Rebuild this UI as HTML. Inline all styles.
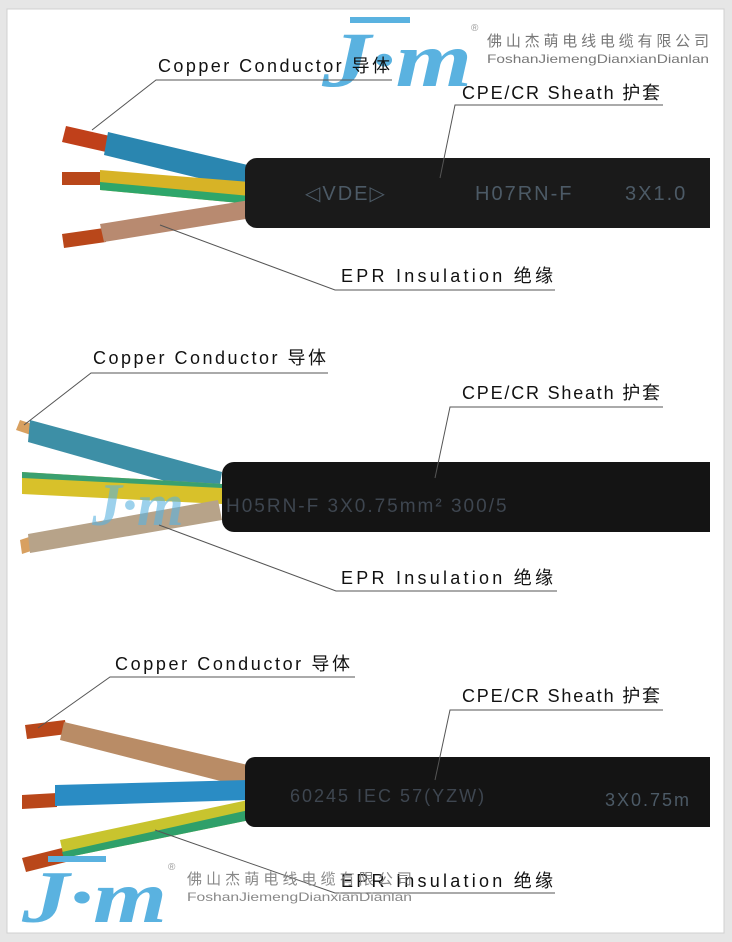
<!DOCTYPE html>
<html><head><meta charset="utf-8"><style>
html,body{margin:0;padding:0;background:#e9e9e9;}
svg{display:block}
text{font-family:"Liberation Sans Narrow","Liberation Sans","Noto Sans CJK SC",sans-serif;}
</style></head><body>
<svg width="732" height="942" viewBox="0 0 732 942" xmlns="http://www.w3.org/2000/svg">
<rect x="0" y="0" width="732" height="942" fill="#e6e6e6"/>
<rect x="7" y="9" width="717" height="924" fill="#fff" stroke="#d0d0d0"/>

<!-- Panel 1 -->
<g>
<path d="M66 126 L110 136 L106 152 L62 142 Z" fill="#c0401a"/>
<path d="M108 132 L252 166 L248 190 L104 155 Z" fill="#2a86b0"/>
<path d="M62 172 h42 v13 h-42z" fill="#b9471a"/>
<path d="M100 170 L250 182 L250 204 L100 190 Z" fill="#d7b326"/>
<path d="M100 182 L250 196 L250 204 L100 190 Z" fill="#2ea66a"/>
<path d="M62 234 l42 -6 l2 14 l-42 6z" fill="#b9471a"/>
<path d="M100 224 L250 200 L252 218 L104 242 Z" fill="#b88a70"/>
<rect x="245" y="158" width="465" height="70" rx="12" fill="#1a1a1a"/>
<rect x="265" y="158" width="445" height="70" fill="#1a1a1a"/>
<text x="305" y="200" font-size="20" fill="#4c5a66" letter-spacing="2" style="font-family:'Liberation Sans',sans-serif">◁VDE▷</text>
<text x="475" y="200" font-size="20" fill="#4c5a66" letter-spacing="2" style="font-family:'Liberation Sans',sans-serif">H07RN-F</text>
<text x="625" y="200" font-size="20" fill="#4c5a66" letter-spacing="2" style="font-family:'Liberation Sans',sans-serif">3X1.0</text>
</g>
<!-- Logo top -->
<g>
<text x="322" y="86" font-size="78" font-style="italic" font-weight="bold" fill="#5ab2e0" style="font-family:'Liberation Serif',serif" textLength="150" lengthAdjust="spacingAndGlyphs">J·m</text>
<rect x="350" y="17" width="60" height="6" fill="#5ab2e0"/>
<text x="487" y="46" font-size="15" fill="#777" style="font-family:'Liberation Sans','Noto Sans CJK SC',sans-serif" textLength="222">佛山杰萌电线电缆有限公司</text>
<text x="487" y="63" font-size="12" fill="#777" style="font-family:'Liberation Sans',sans-serif" textLength="222" lengthAdjust="spacingAndGlyphs">FoshanJiemengDianxianDianlan</text>
<text x="471" y="31" font-size="10" fill="#999">®</text>
</g>
<g fill="#111" font-size="18">
<text x="158" y="72" textLength="232">Copper Conductor 导体</text>
<text x="462" y="99" textLength="198">CPE/CR Sheath 护套</text>
<text x="341" y="282" textLength="212">EPR Insulation 绝缘</text>
</g>
<g stroke="#555" stroke-width="1" fill="none">
<path d="M92 130 L156 80 L392 80"/>
<path d="M440 178 L455 105 L663 105"/>
<path d="M160 225 L335 290 L555 290"/>
</g>

<!-- Panel 2 -->
<g>
<path d="M20 420 l15 5 l-4 10 l-15 -5z" fill="#d8a060"/>
<path d="M30 420 L222 472 L218 496 L28 442 Z" fill="#3d8fa6"/>
<path d="M22 472 L222 484 L222 504 L22 494 Z" fill="#d8c12a"/>
<path d="M22 472 L222 484 L222 488 L22 478 Z" fill="#3aa070"/>
<path d="M20 540 l12 -4 l2 14 l-12 4z" fill="#d8a060"/>
<path d="M28 534 L218 500 L222 520 L30 553 Z" fill="#b7a389"/>
<rect x="222" y="462" width="488" height="70" rx="12" fill="#141414"/>
<rect x="240" y="462" width="470" height="70" fill="#141414"/>
<text x="226" y="512" font-size="19" fill="#3e4650" letter-spacing="2" style="font-family:'Liberation Sans',sans-serif">H05RN-F   3X0.75mm²   300/5</text>
<text x="92" y="525" font-size="60" font-style="italic" font-weight="bold" fill="#5ab2e0" fill-opacity="0.6" style="font-family:'Liberation Serif',serif">J·m</text>
</g>
<g fill="#111" font-size="18">
<text x="93" y="364" textLength="233">Copper Conductor 导体</text>
<text x="462" y="399" textLength="198">CPE/CR Sheath 护套</text>
<text x="341" y="584" textLength="212">EPR Insulation 绝缘</text>
</g>
<g stroke="#555" stroke-width="1" fill="none">
<path d="M24 425 L91 373 L328 373"/>
<path d="M435 478 L450 407 L663 407"/>
<path d="M159 525 L336 591 L557 591"/>
</g>

<!-- Panel 3 -->
<g>
<path d="M25 725 l40 -5 l2 14 l-40 5z" fill="#b9471a"/>
<path d="M64 722 L248 765 L244 787 L60 740 Z" fill="#b98c66"/>
<path d="M22 795 l35 -2 v14 l-35 2z" fill="#b9471a"/>
<path d="M55 785 L248 780 L248 800 L55 806 Z" fill="#2a8cc4"/>
<path d="M22 858 l40 -10 l4 14 l-40 10z" fill="#b9471a"/>
<path d="M60 840 L248 800 L250 820 L64 858 Z" fill="#c8c42e"/>
<path d="M62 852 L249 810 L250 820 L64 858 Z" fill="#2fa06a"/>
<rect x="245" y="757" width="465" height="70" rx="10" fill="#141414"/>
<rect x="262" y="757" width="448" height="70" fill="#141414"/>
<text x="290" y="802" font-size="18" fill="#3e4650" letter-spacing="2" style="font-family:'Liberation Sans',sans-serif">60245 IEC 57(YZW)</text>
<text x="605" y="806" font-size="18" fill="#4c5a66" letter-spacing="2" style="font-family:'Liberation Sans',sans-serif">3X0.75m</text>
</g>
<g fill="#111" font-size="18">
<text x="115" y="670" textLength="235">Copper Conductor 导体</text>
<text x="462" y="702" textLength="198">CPE/CR Sheath 护套</text>
<text x="341" y="887" textLength="212">EPR Insulation 绝缘</text>
</g>
<g stroke="#555" stroke-width="1" fill="none">
<path d="M38 728 L110 677 L355 677"/>
<path d="M435 780 L450 710 L663 710"/>
<path d="M155 830 L335 893 L555 893"/>
</g>
<!-- Logo bottom -->
<g>
<text x="22" y="922" font-size="74" font-style="italic" font-weight="bold" fill="#5ab2e0" style="font-family:'Liberation Serif',serif" textLength="145" lengthAdjust="spacingAndGlyphs">J·m</text>
<rect x="48" y="856" width="58" height="6" fill="#5ab2e0"/>
<text x="168" y="870" font-size="10" fill="#999">®</text>
<text x="187" y="884" font-size="15" fill="#888" style="font-family:'Liberation Sans','Noto Sans CJK SC',sans-serif" textLength="225">佛山杰萌电线电缆有限公司</text>
<text x="187" y="901" font-size="12" fill="#888" style="font-family:'Liberation Sans',sans-serif" textLength="225" lengthAdjust="spacingAndGlyphs">FoshanJiemengDianxianDianlan</text>
</g>
</svg>
</body></html>
